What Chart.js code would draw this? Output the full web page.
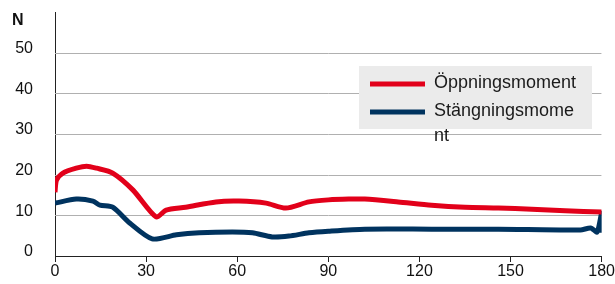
<!DOCTYPE html>
<html>
<head>
<meta charset="utf-8">
<script src="https://cdn.jsdelivr.net/npm/chart.js@4.4.1/dist/chart.umd.min.js"></script>
<style>
  html, body { margin: 0; padding: 0; background: #fff; }
  canvas { display: block; }
</style>
</head>
<body>
<canvas id="momentChart" width="615" height="284"></canvas>
<script>
// Öppningsmoment (red)
const openDeg = [0, 0.5, 2.6, 7, 10.4, 13.7, 19, 25.7, 33.3, 36.6, 43, 53, 60.6, 69.5, 76, 83.6, 90, 96.7, 102, 113, 124, 135, 146, 157, 168, 180];
const openN = [15.7, 18.7, 20.4, 21.6, 22.1, 21.6, 20.4, 16.2, 9.6, 11.3, 12, 13.3, 13.5, 13, 11.8, 13.3, 13.8, 14, 14, 13.3, 12.5, 12, 11.8, 11.5, 11.1, 10.8];

// Stängningsmoment (blue)
const closeDeg = [0, 7, 12.5, 14.8, 19, 24.6, 32, 40, 47.5, 58.4, 65, 71.5, 77, 83.6, 90, 102, 124, 146, 173, 176.4, 178.5, 180, 180];
const closeN = [13, 14, 13.5, 12.5, 12, 8.1, 4.2, 5.2, 5.7, 5.9, 5.7, 4.7, 4.9, 5.7, 6.1, 6.6, 6.6, 6.6, 6.4, 6.9, 5.9, 10.5, 5.7];

const seriesLabels = ['Öppningsmoment', 'Stängningsmoment'];
const seriesColors = ['#e2001a', '#00335f'];
const xTicks = [0, 30, 60, 90, 120, 150, 180];
const yGridValues = [10, 20, 30, 40, 50];

const FONT = '"Liberation Sans", Arial, sans-serif';

const toPoints = (xs, ys) => xs.map((x, i) => ({ x: x, y: ys[i] }));

// horizontal grid lines, only over the plotted x range
const gridPlugin = {
    id: 'hgrid',
    beforeDatasetsDraw(chart) {
        const ctx = chart.ctx;
        const xs = chart.scales.x, ys = chart.scales.y;
        const x0 = xs.getPixelForValue(xTicks[0]);
        const x1 = xs.getPixelForValue(xTicks[xTicks.length - 1]);
        ctx.save();
        ctx.beginPath();
        ctx.rect(x0, 0, x1 - x0, chart.height);
        ctx.clip();
        ctx.strokeStyle = '#b0b0b0';
        ctx.lineWidth = 1;
        yGridValues.forEach(v => {
            const py = Math.round(ys.getPixelForValue(v)) + 0.5;
            ctx.beginPath();
            ctx.moveTo(x0, py);
            ctx.lineTo(x1, py);
            ctx.stroke();
        });
        ctx.restore();
    }
};

// "N" unit label and the grey legend box
const extrasPlugin = {
    id: 'extras',
    afterDraw(chart) {
        const ctx = chart.ctx;
        ctx.save();
        ctx.fillStyle = '#111';
        ctx.font = 'bold 16px ' + FONT;
        ctx.textBaseline = 'middle';
        ctx.fillText('N', 12, 21);

        const bx = 359, by = 66, bw = 233, bh = 63;
        ctx.fillStyle = '#ebebeb';
        ctx.fillRect(bx, by, bw, bh);

        ctx.font = '18px ' + FONT;
        const maxW = 148;
        let rowY = 84;
        chart.data.datasets.forEach((ds, i) => {
            ctx.strokeStyle = ds.borderColor;
            ctx.lineWidth = 5;
            ctx.beginPath();
            ctx.moveTo(370, rowY);
            ctx.lineTo(425, rowY);
            ctx.stroke();

            // break long label by characters, like the original
            const lines = [];
            let cur = '';
            for (const ch of ds.label) {
                if (ctx.measureText(cur + ch).width > maxW) {
                    lines.push(cur);
                    cur = ch;
                } else {
                    cur += ch;
                }
            }
            lines.push(cur);
            ctx.fillStyle = '#1a1a1a';
            lines.forEach((ln, j) => ctx.fillText(ln, 434, rowY - 1 + j * 25));
            rowY += 28;
        });
        ctx.restore();
    }
};

const ctx = document.getElementById('momentChart').getContext('2d');
new Chart(ctx, {
    type: 'scatter',
    data: {
        datasets: [
            {
                label: seriesLabels[0],
                data: toPoints(openDeg, openN),
                borderColor: seriesColors[0],
                backgroundColor: seriesColors[0],
                showLine: true,
                borderWidth: 5,
                pointRadius: 0,
                tension: 0.25,
                borderCapStyle: 'butt',
                borderJoinStyle: 'round'
            },
            {
                label: seriesLabels[1],
                data: toPoints(closeDeg, closeN),
                borderColor: seriesColors[1],
                backgroundColor: seriesColors[1],
                showLine: true,
                borderWidth: 5,
                pointRadius: 0,
                tension: 0.25,
                borderCapStyle: 'butt',
                borderJoinStyle: 'round'
            }
        ]
    },
    options: {
        responsive: false,
        animation: false,
        layout: { padding: { top: 12, right: 0, left: 0, bottom: 0 } },
        plugins: {
            legend: { display: false },
            tooltip: { enabled: false }
        },
        scales: {
            x: {
                type: 'linear',
                min: 0,
                max: 180,
                afterBuildTicks: (scale) => {
                    scale.ticks = xTicks.map(v => ({ value: v }));
                },
                afterFit: (scale) => {
                    scale.height = 28;
                },
                border: { color: '#222', width: 1 },
                grid: { drawOnChartArea: false, drawTicks: true, tickLength: 6, color: '#222' },
                ticks: {
                    color: '#111',
                    font: { family: FONT, size: 16 },
                    padding: 0,
                    maxRotation: 0,
                    autoSkip: false
                }
            },
            y: {
                min: 0,
                max: 60,
                afterFit: (scale) => {
                    scale.width = 55;
                    scale.paddingTop = 0;
                    scale.paddingBottom = 0;
                },
                border: { display: true, color: '#222', width: 1 },
                grid: { display: false },
                ticks: {
                    stepSize: 10,
                    color: '#111',
                    font: { family: FONT, size: 16 },
                    padding: 14,
                    labelOffset: -4,
                    callback: (v) => v === 60 ? '' : v
                }
            }
        }
    },
    plugins: [gridPlugin, extrasPlugin]
});
</script>
</body>
</html>
